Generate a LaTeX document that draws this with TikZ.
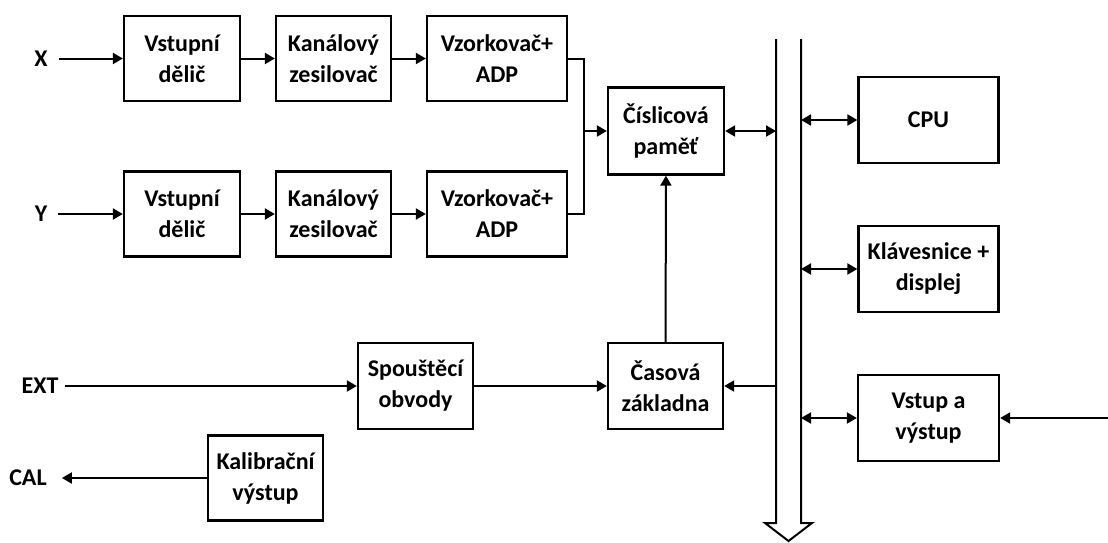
\documentclass[tikz,border=0pt]{standalone}
\usepackage{fontspec}
\setmainfont{Carlito}
\usetikzlibrary{arrows.meta}
\begin{document}
\begin{tikzpicture}[x=1pt,y=-1pt,
  font=\fontsize{24}{31}\selectfont\bfseries,
  blk/.style={draw,line width=2.3pt,align=center,inner sep=0pt},
  lbl/.style={inner sep=0pt},
  conn/.style={line width=2pt},
  arr/.style={conn,-{Triangle[length=10pt,width=11pt]}},
  darr/.style={conn,{Triangle[length=10pt,width=11pt]}-{Triangle[length=10pt,width=11pt]}},
]
\useasboundingbox (0,0) rectangle (1108,542);
% row 1
\node[blk,minimum width=116,minimum height=85] (vd1) at (182,58.5) {Vstupní\\dělič};
\node[blk,minimum width=115,minimum height=85] (kz1) at (333.5,58.5) {Kanálový\\zesilovač};
\node[blk,minimum width=140,minimum height=85] (vz1) at (497,58.5) {Vzorkovač+\\ADP};
% row 2
\node[blk,minimum width=116,minimum height=85] (vd2) at (182,214) {Vstupní\\dělič};
\node[blk,minimum width=115,minimum height=85] (kz2) at (333.5,214) {Kanálový\\zesilovač};
\node[blk,minimum width=140,minimum height=85] (vz2) at (497,214) {Vzorkovač+\\ADP};
% middle
\node[blk,minimum width=116,minimum height=87] (cp) at (666,131) {Číslicová\\paměť};
\node[blk,minimum width=115,minimum height=86] (cz) at (665.5,386) {Časová\\základna};
\node[blk,minimum width=115,minimum height=86] (so) at (415.5,386) {Spouštěcí\\obvody};
\node[blk,minimum width=115,minimum height=85] (kv) at (265.5,478) {Kalibrační\\výstup};
% right
\node[blk,minimum width=140,minimum height=86] (cpu) at (928.5,120) {CPU};
\node[blk,minimum width=140,minimum height=86] (kd) at (928.5,269) {Klávesnice +\\displej};
\node[blk,minimum width=141,minimum height=86] (vv) at (928.5,418) {Vstup a\\výstup};
% labels
\node[lbl] (X) at (41,58.5) {X};
\node[lbl] (Y) at (41,214) {Y};
\node[lbl] (EXT) at (40,386) {EXT};
\node[lbl] (CAL) at (28,478) {CAL};
% bus
\coordinate (busL) at (776,39);
\coordinate (busR) at (801,39);
\draw[line width=2pt,line join=miter] (busL) -- (776,523) -- (765,523) -- (788.5,541) -- (812,523) -- (801,523) -- (busR);
% connectors
\draw[arr] ([xshift=11pt]X.east) -- (vd1.west);
\draw[arr] ([xshift=11pt]Y.east) -- (vd2.west);
\draw[arr] (vd1) -- (kz1);
\draw[arr] (kz1) -- (vz1);
\draw[arr] (vd2) -- (kz2);
\draw[arr] (kz2) -- (vz2);
\coordinate (j) at (584,131);
\draw[conn] (vz1.east) -| (j);
\draw[conn] (vz2.east) -| (j);
\draw[arr] (j) -- (cp.west);
\draw[darr] (cp.east) -- (cp.east -| busL);
\draw[arr] (cz) -- (cp);
\draw[arr] ([xshift=6pt]EXT.east) -- (so.west);
\draw[arr] (so) -- (cz);
\draw[arr] (cz.east -| busL) -- (cz.east);
\draw[arr] (kv.west) -- ([xshift=15pt]CAL.east);
\draw[darr] (cpu.west -| busR) -- (cpu.west);
\draw[darr] (kd.west -| busR) -- (kd.west);
\draw[darr] (vv.west -| busR) -- (vv.west);
\coordinate (ioin) at (1108,418);
\draw[arr] (ioin) -- (vv.east);
\end{tikzpicture}
\end{document}
